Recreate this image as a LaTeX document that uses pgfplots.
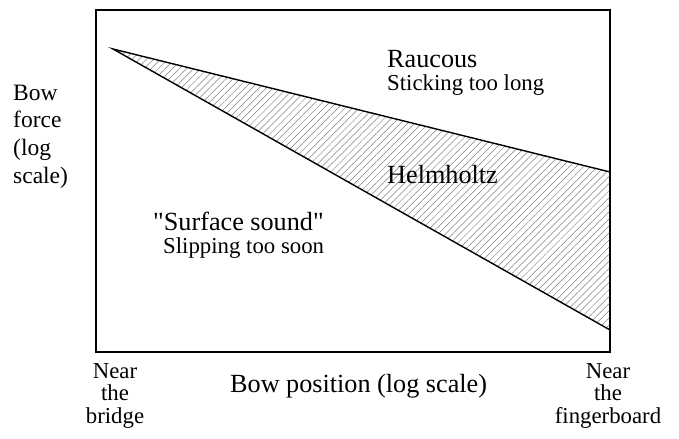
\documentclass[border=0pt]{standalone}
\usepackage{fontspec}
\setmainfont{Liberation Serif}[Ligatures=TeXOff]
\usepackage{pgfplots}
\pgfplotsset{compat=1.18}
\usetikzlibrary{patterns.meta}
\newcommand{\bigf}{\fontsize{26.2bp}{28bp}\selectfont}
\newcommand{\smallf}{\fontsize{22.8bp}{24bp}\selectfont}
\newcommand{\leftf}{\fontsize{23.5bp}{24bp}\selectfont}
\begin{document}
\begin{tikzpicture}
\begin{axis}[
  width=514bp, height=342bp, scale only axis,
  xmin=0, xmax=514, ymin=0, ymax=342,
  ticks=none, clip=false,
  axis line style={line width=1.5bp},
]
\path (axis cs:-96,-87) rectangle (axis cs:583,352);
\addplot[draw=black, line width=1.4bp, line join=miter,
  pattern={Lines[angle=45,distance=5bp,line width=0.5bp]}, pattern color=gray]
  coordinates {(17,303) (514,180) (514,22)} -- cycle;
\tikzset{every node/.style={inner sep=0pt}}
\node[anchor=base west, font=\bigf] at (axis cs:291,284) {Raucous};
\node[anchor=base west, font=\smallf] at (axis cs:291,261) {Sticking too long};
\node[anchor=base west, font=\bigf] at (axis cs:291,168) {Helmholtz};
\node[anchor=base west, font=\bigf] at (axis cs:57,121) {"Surface sound"};
\node[anchor=base west, font=\smallf] at (axis cs:67,98) {Slipping too soon};
\node[anchor=base west, font=\bigf] at (axis cs:134,-40) {Bow position (log scale)};
\node[anchor=base west, font=\leftf] at (axis cs:-83,251) {Bow};
\node[anchor=base west, font=\leftf] at (axis cs:-83,224) {force};
\node[anchor=base west, font=\leftf] at (axis cs:-83,196) {(log};
\node[anchor=base west, font=\leftf] at (axis cs:-83,168) {scale)};
\node[anchor=base, font=\smallf] at (axis cs:19,-26) {Near};
\node[anchor=base, font=\smallf] at (axis cs:19,-48) {the};
\node[anchor=base, font=\smallf] at (axis cs:19,-71) {bridge};
\node[anchor=base, font=\smallf] at (axis cs:512,-26) {Near};
\node[anchor=base, font=\smallf] at (axis cs:512,-48) {the};
\node[anchor=base, font=\smallf] at (axis cs:512,-71) {fingerboard};
\end{axis}
\end{tikzpicture}
\end{document}
